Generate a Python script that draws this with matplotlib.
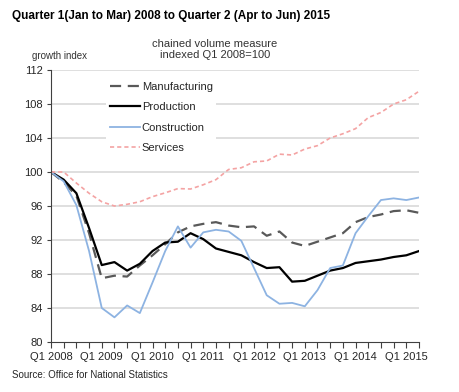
import matplotlib
matplotlib.use("Agg")
import matplotlib.pyplot as plt
import numpy as np

plt.rcParams['font.family'] = ['Liberation Sans', 'DejaVu Sans']

# quarterly index values, Q1 2008 .. Q2 2015 (Q1 2008 = 100)
quarters = ["Q%d %d" % (q, y) for y in range(2008, 2016) for q in range(1, 5)][:30]
manufacturing = [100, 98.8, 97.2, 92.8, 87.5, 87.8, 87.7, 89.0, 90.2, 91.5,
                 92.9, 93.6, 93.9, 94.1, 93.7, 93.5, 93.6, 92.5, 93.0, 91.7,
                 91.3, 91.8, 92.3, 92.8, 94.1, 94.7, 95.0, 95.4, 95.5, 95.2]
production = [100, 99.1, 97.5, 93.4, 89.05, 89.4, 88.4, 89.2, 90.7, 91.7,
              91.8, 92.8, 92.1, 91.0, 90.6, 90.2, 89.4, 88.7, 88.8, 87.1,
              87.2, 87.8, 88.4, 88.7, 89.3, 89.5, 89.7, 90.0, 90.2, 90.7]
construction = [100, 98.9, 96.1, 90.7, 84.0, 82.9, 84.3, 83.4, 87.0, 90.7,
                93.6, 91.1, 92.9, 93.2, 93.0, 91.9, 88.7, 85.5, 84.5, 84.6,
                84.2, 86.1, 88.7, 89.0, 92.8, 94.8, 96.7, 96.9, 96.7, 97.0]
services = [100, 100, 98.7, 97.5, 96.5, 96.0, 96.2, 96.5, 97.1, 97.55,
            98.05, 98.0, 98.5, 99.1, 100.3, 100.5, 101.2, 101.3, 102.1, 102.0,
            102.7, 103.1, 104.0, 104.5, 105.1, 106.4, 107.0, 108.0, 108.5, 109.5]
y_ticks = [80, 84, 88, 92, 96, 100, 104, 108, 112]

fig = plt.figure(figsize=(4.6, 3.92), dpi=100)
ax = fig.add_axes([51 / 460, 50 / 392, 368 / 460, 272 / 392])

x = np.arange(len(quarters))
ax.plot(x, manufacturing, color='#595959', lw=1.6, dashes=(5, 3), label='Manufacturing')
ax.plot(x, production, color='black', lw=1.6, label='Production')
ax.plot(x, construction, color='#8db3e2', lw=1.3, label='Construction')
ax.plot(x, services, color='#f4a3a3', lw=1.2, dashes=(2.5, 1.8), label='Services')

ax.set_xlim(0, len(quarters) - 1)
ax.set_ylim(80, 112)
ax.set_yticks(y_ticks)
ax.set_yticklabels([str(v) for v in y_ticks])
ax.set_xticks(x)
ax.set_xticklabels([q if q.startswith('Q1') else '' for q in quarters])
ax.tick_params(axis='x', length=4, width=0.8, color='#404040', labelsize=8,
               labelcolor='#262626', pad=3)
ax.tick_params(axis='y', length=3, width=0.8, color='#404040', labelsize=8,
               labelcolor='#262626', pad=3)

for v in y_ticks[1:]:
    ax.axhline(v, color='#d9d9d9', lw=1.2, zorder=0)

for side in ['top', 'right']:
    ax.spines[side].set_visible(False)
ax.spines['left'].set_color('#404040')
ax.spines['bottom'].set_color('#404040')
ax.spines['left'].set_linewidth(0.8)
ax.spines['bottom'].set_linewidth(0.8)

leg = ax.legend(loc='upper left', bbox_to_anchor=(0.135, 0.99), frameon=True,
                fontsize=8, handlelength=2.7, handletextpad=0.2, labelspacing=0.95,
                borderpad=0.3)
leg.get_frame().set_edgecolor('none')
leg.get_frame().set_facecolor('white')
leg.get_frame().set_alpha(1)
for t in leg.get_texts():
    t.set_color('#262626')

fig.text(12 / 460, 1 - 16 / 392, "Quarter 1(Jan to Mar) 2008 to Quarter 2 (Apr to Jun) 2015",
         fontsize=8.5, fontweight='bold', va='center', ha='left')
fig.text(60 / 460, 1 - 56 / 392, "growth index", fontsize=7, color='#333333',
         ha='center', va='center')
fig.text(215 / 460, 1 - 44 / 392, "chained volume measure", fontsize=8, color='#333333',
         ha='center', va='center')
fig.text(215 / 460, 1 - 55 / 392, "indexed Q1 2008=100", fontsize=8, color='#333333',
         ha='center', va='center')
fig.text(12 / 460, 1 - 375 / 392, "Source: Office for National Statistics", fontsize=7,
         color='#262626', ha='left', va='center')

fig.savefig("out.png", dpi=100, facecolor='white')
